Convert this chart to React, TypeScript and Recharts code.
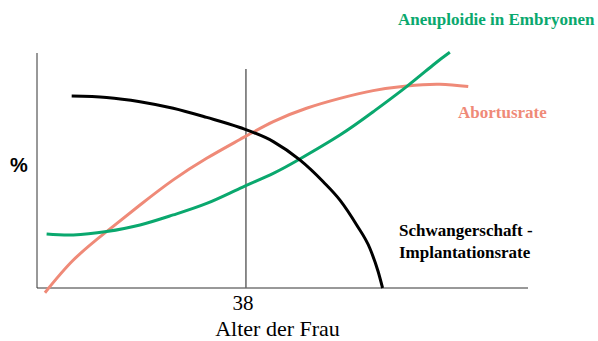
import { LineChart, Line, XAxis, YAxis, ReferenceLine } from "recharts";

// age (years) and rate (% of the axis height)
const implantationAge = [29.66, 31.33, 32.93, 34.52, 36.12, 37.71, 39.31, 40.58, 41.7, 42.5, 43.3, 43.93, 44.33, 44.54];
const implantationRate = [81.7, 81.1, 79.3, 76.5, 72.6, 68.3, 62.3, 54.5, 45.2, 37.4, 26.8, 16.9, 6.9, 0];

const abortionAge = [28.38, 29.74, 31.33, 32.93, 34.52, 36.12, 37.71, 39.31, 40.9, 42.5, 44.09, 45.69, 47.28, 48.64];
const abortionRate = [-2.0, 11.9, 24.0, 35.3, 46.0, 55.2, 63.2, 70.8, 76.5, 80.7, 84.0, 86.0, 86.7, 85.7];

const aneuploidyAge = [28.46, 29.74, 31.33, 32.93, 34.52, 36.12, 37.71, 39.31, 40.58, 42.5, 44.09, 45.69, 46.96, 47.76];
const aneuploidyRate = [23.0, 22.6, 24.0, 26.8, 31.1, 36.0, 42.4, 48.8, 54.9, 65.1, 75.0, 85.7, 94.9, 100.3];

const xTicks = [38];
const markerAge = 38;
const markerTop = 93.2;
const axisMin = 28;

const toPoints = (ages: number[], rates: number[]) =>
  ages.map((age, i) => ({ age, v: rates[i] }));

const implantation = toPoints(implantationAge, implantationRate);
const abortion = toPoints(abortionAge, abortionRate);
const aneuploidy = toPoints(aneuploidyAge, aneuploidyRate);

const GREEN = "#0aa86e";
const SALMON = "#ef8a78";
const serif = "Liberation Serif, Times New Roman, serif";

function AgeTick({ x, y, payload }: any) {
  return (
    <text x={x} y={y} dx={-3} dy={10.3} textAnchor="middle" style={{ fontFamily: serif, fontSize: 21 }} fill="#000">
      {payload.value}
    </text>
  );
}

const boldLabel = { fontFamily: serif, fontWeight: 700, fontSize: 17 };

export default function App() {
  return (
    <div style={{ position: "absolute", left: 0, top: 0, width: 598, height: 341, background: "#fff" }}>
      <LineChart width={598} height={341} margin={{ top: 29.5, right: 70, bottom: 13.6, left: 37 }}>
        <XAxis
          type="number"
          dataKey="age"
          domain={[axisMin, 51.5]}
          allowDataOverflow
          ticks={xTicks}
          height={30}
          axisLine={false}
          tickLine={false}
          tickSize={0}
          tick={<AgeTick />}
        />
        <YAxis type="number" dataKey="v" domain={[-4, 110]} allowDataOverflow hide />
        <ReferenceLine y={0} stroke="#333" strokeWidth={1} />
        <ReferenceLine segment={[{ x: axisMin, y: 0 }, { x: axisMin, y: 100 }]} stroke="#333" strokeWidth={1} />
        <ReferenceLine
          segment={[{ x: markerAge, y: 0 }, { x: markerAge, y: markerTop }]}
          stroke="#666"
          strokeWidth={1.5}
        />
        <Line data={abortion} dataKey="v" type="natural" stroke={SALMON} strokeWidth={3} dot={false} isAnimationActive={false} />
        <Line data={aneuploidy} dataKey="v" type="natural" stroke={GREEN} strokeWidth={3} dot={false} isAnimationActive={false} />
        <Line data={implantation} dataKey="v" type="monotone" stroke="#000" strokeWidth={3} dot={false} isAnimationActive={false} />
      </LineChart>
      <svg width={598} height={341} style={{ position: "absolute", left: 0, top: 0, pointerEvents: "none" }}>
        <text x={398} y={25} style={boldLabel} fill={GREEN}>
          Aneuploidie in Embryonen
        </text>
        <text x={458} y={117.7} style={boldLabel} fill={SALMON}>
          Abortusrate
        </text>
        <text x={399} y={236} style={boldLabel} fill="#000">
          Schwangerschaft -
        </text>
        <text x={399} y={258} style={boldLabel} fill="#000">
          Implantationsrate
        </text>
        <text x={10} y={172} style={{ fontFamily: "Liberation Sans, Arial, sans-serif", fontWeight: 700, fontSize: 20 }} fill="#000">
          %
        </text>
        <text x={277.5} y={336} textAnchor="middle" style={{ fontFamily: serif, fontSize: 22 }} fill="#000">
          Alter der Frau
        </text>
      </svg>
    </div>
  );
}
